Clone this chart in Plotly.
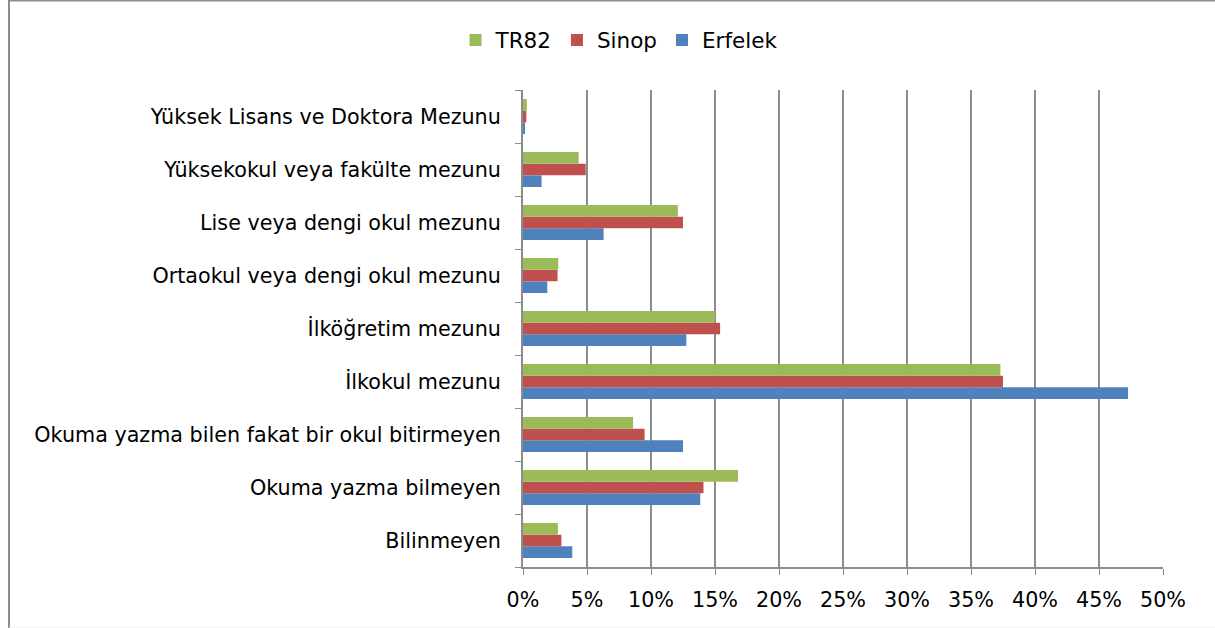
import plotly.graph_objects as go

categories = [
    "Bilinmeyen",
    "Okuma yazma bilmeyen",
    "Okuma yazma bilen fakat bir okul bitirmeyen",
    "İlkokul mezunu",
    "İlköğretim mezunu",
    "Ortaokul veya dengi okul mezunu",
    "Lise veya dengi okul mezunu",
    "Yüksekokul veya fakülte mezunu",
    "Yüksek Lisans ve Doktora Mezunu",
]
tr82 = [2.73, 16.8, 8.6, 37.3, 15.0, 2.75, 12.1, 4.35, 0.3]
sinop = [3.0, 14.1, 9.5, 37.5, 15.4, 2.7, 12.5, 4.9, 0.26]
erfelek = [3.85, 13.85, 12.5, 47.27, 12.76, 1.9, 6.3, 1.45, 0.1]
x_ticks = [0, 5, 10, 15, 20, 25, 30, 35, 40, 45, 50]
x_tick_labels = [f"{v}%" for v in x_ticks]

FONT = "DejaVu Sans, sans-serif"

fig = go.Figure()
for name, vals, col in [
    ("Erfelek", erfelek, "#4f81bd"),
    ("Sinop", sinop, "#c0504d"),
    ("TR82", tr82, "#9bbb59"),
]:
    fig.add_trace(go.Bar(y=categories, x=vals, name=name, orientation="h",
                         marker=dict(color=col, line=dict(width=0))))

W, H = 1215, 628
L, R, T, B = 523, 1163, 90, 567


def px_x(p):
    return (p - L) / (R - L)


def px_y(p):
    return (B - p) / (B - T)


fig.update_layout(
    width=W, height=H,
    margin=dict(l=L, r=W - R, t=T, b=H - B, autoexpand=False),
    barmode="group", bargap=0.34, bargroupgap=0,
    plot_bgcolor="white", paper_bgcolor="white",
    font=dict(family=FONT, size=20.7, color="#000000"),
    legend=dict(orientation="h", traceorder="reversed", x=px_x(619),
                xanchor="center", y=px_y(40), yanchor="middle",
                font=dict(size=21.5), itemwidth=30),
    xaxis=dict(range=[0, 50], tickvals=x_ticks, ticktext=x_tick_labels,
               showgrid=True, gridcolor="#8c8c8c", gridwidth=2,
               showline=True, linecolor="#8c8c8c", linewidth=2,
               ticks="outside", ticklen=6, tickcolor="#8c8c8c", tickwidth=1,
               zeroline=False, automargin=False, ticklabelstandoff=7),
    yaxis=dict(showline=True, linecolor="#8c8c8c", linewidth=2,
               ticks="outside", ticklen=6, tickcolor="#8c8c8c", tickson="boundaries",
               showgrid=False, automargin=False, ticklabelstandoff=16),
    shapes=[
        dict(type="line", xref="paper", yref="paper",
             x0=px_x(9), x1=px_x(9), y0=px_y(628), y1=px_y(0),
             line=dict(color="#8c8c8c", width=2), layer="below"),
        dict(type="line", xref="paper", yref="paper",
             x0=px_x(9), x1=px_x(1216), y0=px_y(0.5), y1=px_y(0.5),
             line=dict(color="#8c8c8c", width=2), layer="below"),
        dict(type="line", xref="paper", yref="paper",
             x0=px_x(9), x1=px_x(1216), y0=px_y(627), y1=px_y(627),
             line=dict(color="#eeeeee", width=1), layer="below"),
    ],
)
fig.write_html("out.html", config={"displayModeBar": False},
               post_script="document.body.style.margin='0px';")
